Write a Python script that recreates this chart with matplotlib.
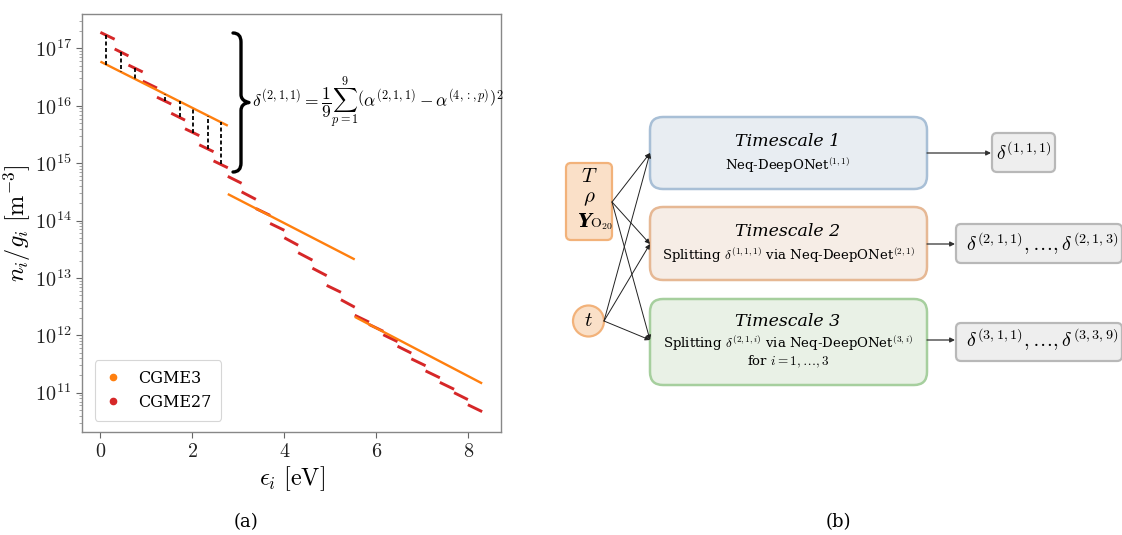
import numpy as np
import matplotlib
matplotlib.use("Agg")
import matplotlib.pyplot as plt
from matplotlib.patches import FancyBboxPatch, Circle, PathPatch
from matplotlib.path import Path
from matplotlib.lines import Line2D
from matplotlib.ticker import FuncFormatter

plt.rcParams["font.family"] = "serif"
plt.rcParams["font.serif"] = ["DejaVu Serif"]
plt.rcParams["mathtext.fontset"] = "cm"

###########################################################
# Data
###########################################################

# CGME3: three coarse bins, Boltzmann segments
cgme3_lo = [0.00, 2.77, 5.53]
cgme3_hi = [2.77, 5.53, 8.30]
cgme3_start = [5.9e16, 2.9e14, 2.1e12]
cgme3_end = [4.5e15, 2.1e13, 1.45e11]

# CGME27: 27 fine bins (log10 of n_i/g_i at each bin edge)
cgme27_edges = [0.00, 0.31, 0.61, 0.92, 1.23, 1.54, 1.84, 2.15, 2.46,
                2.77, 3.07, 3.38, 3.69, 4.00, 4.30, 4.61, 4.92, 5.23,
                5.53, 5.84, 6.15, 6.46, 6.76, 7.07, 7.38, 7.69, 7.99, 8.30]
cgme27_start_log = [17.28, 16.99, 16.71, 16.43, 16.15, 15.87, 15.60, 15.32, 15.04,
                    14.77, 14.50, 14.21, 13.95, 13.70, 13.44, 13.17, 12.87, 12.62,
                    12.35, 12.19, 12.01, 11.81, 11.59, 11.38, 11.18, 11.00, 10.79]
cgme27_end_log = [17.16, 16.87, 16.59, 16.31, 16.03, 15.75, 15.48, 15.20, 14.92,
                  14.65, 14.37, 14.09, 13.83, 13.57, 13.31, 13.04, 12.75, 12.49,
                  12.23, 12.07, 11.89, 11.69, 11.47, 11.26, 11.06, 10.88, 10.67]

# energies of the dashed difference markers
diff_x = [0.13, 0.44, 0.75, 1.41, 1.72, 2.02, 2.33, 2.62]

labels = ["CGME3", "CGME27"]
colors = ["#ff7f0e", "#d62728"]

# diagram texts
stage_titles = ["Timescale 1", "Timescale 2", "Timescale 3"]
stage_texts = [
    r"Neq-DeepONet$^{(1,1)}$",
    r"Splitting $\delta^{(1,1,1)}$ via Neq-DeepONet$^{(2,1)}$",
    r"Splitting $\delta^{(2,1,i)}$ via Neq-DeepONet$^{(3,i)}$",
]
stage_outputs = [
    r"$\delta^{(1,1,1)}$",
    r"$\delta^{(2,1,1)},\ldots,\delta^{(2,1,3)}$",
    r"$\delta^{(3,1,1)},\ldots,\delta^{(3,3,9)}$",
]
stage_face = ["#e8edf2", "#f6ede6", "#e9f1e6"]
stage_edge = ["#a8bfd6", "#e6b894", "#a6cf9e"]


###########################################################
# Helpers
###########################################################

def log_at(x, lo, hi, y0, y1):
    # log-linear interpolation on a segment
    for a, b, s, e in zip(lo, hi, y0, y1):
        if a <= x <= b:
            return s + (e - s) * (x - a) / (b - a)
    return np.nan


###########################################################
# Figure
###########################################################

W, H = 1122, 535
fig = plt.figure(figsize=(W / 100, H / 100), dpi=100)

ax = fig.add_axes([82 / W, 1 - 432 / H, (501 - 82) / W, (432 - 14) / H])

for a, b, s, e in zip(cgme3_lo, cgme3_hi, cgme3_start, cgme3_end):
    ax.plot([a, b], [s, e], color=colors[0], lw=1.7, solid_capstyle="butt", zorder=3)

for k in range(len(cgme27_start_log)):
    ax.plot(
        [cgme27_edges[k], cgme27_edges[k + 1]],
        [10 ** cgme27_start_log[k], 10 ** cgme27_end_log[k]],
        color=colors[1], lw=2.1, solid_capstyle="butt", zorder=2,
    )

c3_log0 = np.log10(cgme3_start)
c3_log1 = np.log10(cgme3_end)
for x in diff_x:
    y_red = log_at(x, cgme27_edges[:-1], cgme27_edges[1:], cgme27_start_log, cgme27_end_log)
    y_or = log_at(x, cgme3_lo, cgme3_hi, c3_log0, c3_log1)
    ax.plot([x, x], [10 ** y_red, 10 ** y_or], color="black", lw=1.3,
            linestyle=(0, (2.2, 1.4)), zorder=4)

ax.set_yscale("log")
ax.set_xlim(-0.40, 8.71)
ax.set_ylim(10 ** 10.315, 10 ** 17.6)
ax.set_xticks([0, 2, 4, 6, 8])
ax.xaxis.set_major_formatter(FuncFormatter(lambda v, p: rf"${v:.0f}$"))
ax.yaxis.set_major_formatter(
    FuncFormatter(lambda v, p: rf"$10^{{{int(round(np.log10(v)))}}}$"))

for sp in ax.spines.values():
    sp.set_color("#888888")
    sp.set_linewidth(1.0)
ax.tick_params(axis="both", which="major", labelsize=14.5, color="#666666",
               length=4, width=0.8, labelcolor="#222222")
ax.tick_params(axis="y", which="minor", color="#999999", length=2.5, width=0.6)

ax.set_xlabel(r"$\epsilon_i\ [\mathrm{eV}]$", fontsize=17.5)
ax.set_ylabel(r"$n_i/g_i\ [\mathrm{m}^{-3}]$", fontsize=17.5)
ax.xaxis.set_label_coords(0.5, -0.078)
ax.yaxis.set_label_coords(-0.118, 0.5)

handles = [Line2D([], [], marker="o", linestyle="none", color=c, markersize=4.5)
           for c in colors]
leg = ax.legend(handles, labels, loc="lower left", fontsize=11.5,
                bbox_to_anchor=(0.012, 0.008), handlelength=1.0, handletextpad=1.1,
                borderpad=0.6, labelspacing=0.45, frameon=True, fancybox=True)
leg.get_frame().set_edgecolor("#cccccc")
leg.get_frame().set_linewidth(0.8)

# overlay in pixel coordinates for brace, equation and the diagram
ov = fig.add_axes([0, 0, 1, 1], facecolor="none")
ov.set_xlim(0, W)
ov.set_ylim(H, 0)
ov.axis("off")

# curly brace
bx, top, bot, tip = 233, 33, 172, 249
mid = (top + bot) / 2
verts = [
    (bx, top), (bx + 8, top), (bx + 8, top + 9),
    (bx + 8, mid - 8),
    (bx + 8, mid - 1), (tip, mid), (tip, mid),
    (bx + 8, mid + 1), (bx + 8, mid + 8),
    (bx + 8, bot - 9),
    (bx + 8, bot), (bx, bot),
]
codes = [Path.MOVETO, Path.CURVE3, Path.CURVE3,
         Path.LINETO,
         Path.CURVE4, Path.CURVE4, Path.CURVE4,
         Path.CURVE3, Path.CURVE3,
         Path.LINETO,
         Path.CURVE3, Path.CURVE3]
ov.add_patch(PathPatch(Path(verts, codes), fill=False, lw=2.4, color="black",
                       capstyle="round", joinstyle="round"))

ov.text(252, mid,
        r"$\delta^{(2,1,1)}=\dfrac{1}{9}\sum_{p=1}^{9}\left(\alpha^{(2,1,1)}-\alpha^{(4,{:},p)}\right)^2$",
        fontsize=12.5, ha="left", va="center")

# captions
ov.text(246, 522, "(a)", fontsize=13, ha="center", va="center")
ov.text(838, 522, "(b)", fontsize=13, ha="center", va="center")

# input nodes
ov.add_patch(FancyBboxPatch((566, 163), 46, 77, boxstyle="round,pad=0,rounding_size=5",
                            fc="#fae0c8", ec="#f2b27a", lw=1.6))
ov.text(589, 177, r"$T$", fontsize=15, ha="center", va="center")
ov.text(589, 199, r"$\rho$", fontsize=15, ha="center", va="center")
ov.text(584, 222, "Y", fontsize=14, fontweight="bold", style="italic",
        ha="center", va="center")
ov.text(590, 228, r"$\mathrm{O}_{20}$", fontsize=10, ha="left", va="baseline")

ov.add_patch(Circle((588.5, 321), 15.5, fc="#fae0c8", ec="#f2b27a", lw=1.6))
ov.text(588.5, 321, r"$t$", fontsize=15, ha="center", va="center")

# stage boxes
box_top = [117, 207, 299]
box_bot = [189, 280, 385]
box_in_y = [153, 244, 340]
title_y = [141, 231, 321]
text_y = [165, 255, 343]
out_x = [992, 956, 956]
out_w = [63, 166, 166]
out_top = [133, 224, 323]
out_bot = [172, 263, 361]

for i in range(3):
    ov.add_patch(FancyBboxPatch((650, box_top[i]), 277, box_bot[i] - box_top[i],
                                boxstyle="round,pad=0,rounding_size=13",
                                fc=stage_face[i], ec=stage_edge[i], lw=1.8))
    ov.text(788, title_y[i], stage_titles[i], fontsize=12.5, style="italic",
            ha="center", va="center")
    ov.text(788, text_y[i], stage_texts[i], fontsize=9.5, ha="center", va="center")

    ov.add_patch(FancyBboxPatch((out_x[i], out_top[i]), out_w[i], out_bot[i] - out_top[i],
                                boxstyle="round,pad=0,rounding_size=5",
                                fc="#eeeeee", ec="#b8b8b8", lw=1.6))
    if i == 0:
        ov.text(out_x[i] + out_w[i] / 2, box_in_y[i], stage_outputs[i], fontsize=14,
                ha="center", va="center")
    else:
        ov.text(out_x[i] + 10, box_in_y[i], stage_outputs[i], fontsize=14.5,
                ha="left", va="center")

    ov.annotate("", xy=(out_x[i] - 1, box_in_y[i]), xytext=(927, box_in_y[i]),
                arrowprops=dict(arrowstyle="-|>", color="#333333", lw=0.9,
                                mutation_scale=7, shrinkA=0, shrinkB=0))
    for src in [(612, 202), (604, 321)]:
        ov.annotate("", xy=(650, box_in_y[i]), xytext=src,
                    arrowprops=dict(arrowstyle="-|>", color="#222222", lw=0.7,
                                    mutation_scale=7, shrinkA=0, shrinkB=0))

ov.text(788, 362, r"for $i=1,\ldots,3$", fontsize=9.5, ha="center", va="center")

fig.savefig("out.png", dpi=100)
